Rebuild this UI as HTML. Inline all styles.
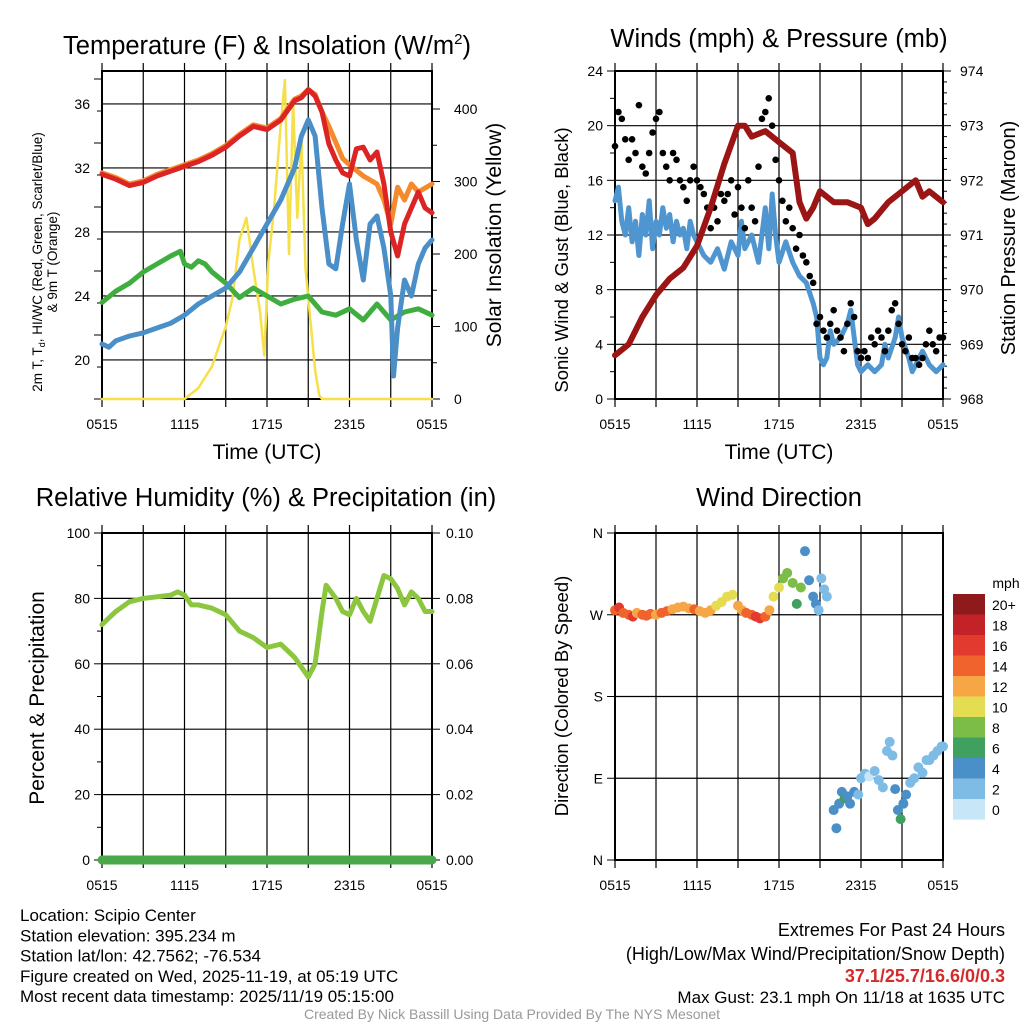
<!DOCTYPE html>
<html><head><meta charset="utf-8">
<style>
html,body{margin:0;padding:0;background:#fff;}
svg{display:block;font-family:"Liberation Sans",Arial,sans-serif;}
</style></head>
<body>
<svg id="c" width="1024" height="1024" viewBox="0 0 1024 1024" xmlns="http://www.w3.org/2000/svg">
<rect width="1024" height="1024" fill="#fff"/>
</svg>
<script>
// ---------- DATA ----------
const xTickLabels = ["0515","1115","1715","2315","0515"];
// Panel 1
const redT = [0,1,2,3,4,5,6,7,8,9,10,11,12,13,14,14.5,15,15.5,16,16.5,17,17.5,18,18.5,19,19.5,20,20.5,21,21.5,22,22.5,23,23.5,24];
const redV = [31.6,31.3,30.9,31.1,31.5,31.8,32.1,32.4,32.8,33.3,34.0,34.6,34.4,35.0,36.2,36.4,36.9,36.5,35.5,33.5,32.5,31.7,31.5,33.2,33.3,32.5,33.0,31.0,28.0,26.5,28.5,29.5,30.5,29.5,29.2];
const orangeT = [0,1,2,3,4,5,6,7,8,9,10,11,12,13,14,14.5,15,15.5,16,16.5,17,17.5,18,19,20,20.5,21,21.5,22,22.5,23,24];
const orangeV = [31.7,31.4,31.0,31.2,31.6,31.9,32.2,32.5,32.9,33.4,34.1,34.7,34.5,35.1,36.3,36.5,36.9,36.6,35.5,34.6,33.6,32.6,32.2,31.5,31.0,30.0,28.5,30.8,30.0,31.0,30.5,31.0];
const blueT = [0,0.5,1,2,3,4,5,6,7,8,9,10,11,12,13,14,14.5,15,15.5,16,16.5,17,17.5,18,18.5,19,19.5,20,20.5,21,21.2,21.5,22,22.5,23,23.5,24];
const blueV = [21.0,20.8,21.2,21.5,21.7,22.0,22.3,22.8,23.5,24.0,24.5,25.5,27.0,28.5,30.0,32.0,34.0,35.0,34.0,29.5,26.0,25.7,28.5,31.0,27.5,25.0,28.5,29.0,27.0,24.0,19.0,22.0,25.0,24.0,26.0,27.0,27.5];
const greenT = [0,1,2,3,4,5,5.7,6,6.5,7,7.5,8,9,10,11,12,13,14,15,16,17,18,19,20,21,22,23,24];
const greenV = [23.6,24.3,24.8,25.5,26.0,26.5,26.8,26.0,25.8,26.2,26.0,25.5,24.8,23.9,24.5,24.0,23.5,23.8,24.0,23.0,22.8,23.2,22.5,23.5,22.5,23.0,23.2,22.8];
const solarT = [0,6.0,7.0,8.0,9.0,9.5,10.0,10.5,11.0,11.5,11.8,12.1,12.5,13.0,13.3,13.6,13.9,14.2,14.5,14.8,15.1,15.5,15.8,16,24];
const solarV = [0,0,15,45,100,140,220,250,180,120,60,190,260,380,440,200,410,250,360,180,120,40,5,0,0];
// Panel 2
const windT = [0,0.25,0.5,0.75,1,1.25,1.5,1.75,2,2.25,2.5,2.75,3,3.25,3.5,3.75,4,4.25,4.5,4.75,5,5.25,5.5,5.75,6,6.5,7,7.5,8,8.5,9,9.25,9.5,10,10.5,11,11.25,11.5,11.75,12,12.5,13,13.5,14,14.5,14.75,15,15.25,15.5,15.75,16,16.5,17,17.25,17.5,17.75,18,18.5,19,19.5,19.75,20,20.5,20.75,21,21.5,21.75,22,22.5,23,23.5,24];
const windV = [14.5,15.5,13,12,14,11.5,13,10.5,13.5,12,14.5,11,13,12,14,12.5,13.5,11.5,13,12,12.5,11,13,12,11.5,10.5,10,11,9.5,11.5,10.5,13,11,12,10,14,11,15,12,10,11.5,10,9,8.5,7,6,3,2.5,3,5,4,4.5,5.5,6.5,4.5,2.5,2,2.5,2,2.5,4,3,4.5,6,4.5,3,2,2.5,3.5,2.5,2,2.5];
const gustV = [18.5,21,20.5,19, 17.5,19,18,21.5, 17,16.5,18,19.5, 20.5,21,18,17, 16,18,17.5,16, 15.5,14.5,16,17, 16,15.5,15,14, 12.5,14,13,15, 14.5,15,16,13.5, 15.5,14,12.5,16, 14,13,17,20.5, 21,22,20,17.5, 16,14.5,13,14, 12.5,11,12,10.5, 10,9,8.5,5.5, 6,5,4.5,5.5, 6.5,5,4.5,3.5, 5.5,7,6,3.5, 3,3.5,3,4.5, 4,5,4.5,3.5, 5,6.5,7,5.5, 4,3.5,4.5,3, 3,2.5,3,4, 5,4,3.5,4.5, 4.5];
const gustStepHours = 0.25;
const presT = [0,1,2,3,4,5,6,7,8,9,9.5,10,11,12,13,13.5,14,14.5,15,16,17,18,18.5,19,20,21,22,22.5,23,24];
const presV = [968.8,969.0,969.5,969.9,970.2,970.4,970.8,971.5,972.3,973.0,973.0,972.8,972.9,972.7,972.5,971.6,971.3,971.5,971.8,971.6,971.6,971.5,971.2,971.3,971.6,971.8,972.0,971.7,971.8,971.6];
// Panel 3
const rhT = [0,0.5,1,2,3,4,5,5.5,6,6.5,7,8,9,10,11,12,13,14,14.5,15,15.5,16,16.3,17,17.5,18,18.5,19,19.5,20,20.5,21,21.5,22,22.5,23,23.5,24];
const rhV = [72,74,76,79,80,80.5,81,82,81,78,78,77,75,70,68,65,66,62,59,56,60,76,84,80,76,75,80,76,73,80,87,86,83,78,82,80,76,76];
const precipV = [0,0];
// Panel 4
const dirT = [0,0.3,0.6,1,1.3,1.6,2,2.3,2.6,3,3.4,3.8,4.2,4.6,5,5.4,5.8,6.2,6.6,7,7.4,7.8,8.2,8.6,9,9.3,9.6,10,10.3,10.6,11,11.3,11.6,12,12.3,12.6,13,13.3,13.6,13.9,14.2,14.5,14.7,14.9,15.1,15.3,15.5,16,16.2,16.4,16.6,16.8,17,17.2,17.5,17.8,18,18.3,18.6,19,19.3,19.6,19.9,20.1,20.3,20.5,20.7,20.9,21.1,21.3,21.6,21.9,22.2,22.5,22.8,23,23.3,23.6,23.9,24];
const dirV = [275,278,272,270,268,272,270,269,271,270,272,274,276,278,279,277,276,274,272,275,280,284,290,292,280,275,272,270,268,266,268,275,290,300,310,316,305,282,300,340,308,290,282,275,310,298,290,55,35,62,75,68,70,62,75,72,90,95,92,98,88,80,120,130,115,78,55,45,62,72,85,90,102,96,110,110,115,120,125,125];
const dirS = [15,17,14,14,16,13,14,14,15,13,14,14,13,13,12,13,14,13,12,12,10,11,10,10,12,13,14,15,16,17,15,12,11,10,9,9,8,7,8,5,5,5,4,3,3,3,3,5,4,5,5,7,4,4,4,3,3,2,1,2,3,3,2,2,2,4,5,7,5,4,3,2,2,2,3,2,2,3,2,2];
const barLabels = ["20+","18","16","14","12","10","8","6","4","2","0"];
const barColors = ["#8e1a1c","#c32228","#e23a2e","#f0632c","#f7a646","#e4dd52","#7cbd47","#40a05f","#4a8fc7","#7ebce6","#c7e6f8"];

// ---------- helpers ----------
const NS="http://www.w3.org/2000/svg";
const svg=document.getElementById('c');
function el(tag,attrs,parent){const e=document.createElementNS(NS,tag);for(const k in attrs)e.setAttribute(k,attrs[k]);(parent||svg).appendChild(e);return e;}
function txt(s,x,y,size,anchor,parent,extra){const t=el('text',Object.assign({x:x,y:y,'font-size':size,'text-anchor':anchor||'middle',fill:'#000'},extra||{}),parent);t.textContent=s;return t;}
function mkScaleX(p){return h=>p.l+h*(p.r-p.l)/24;}
function mkScaleY(p,lo,hi){return v=>p.b-(v-lo)*(p.b-p.t)/(hi-lo);}
function polyPts(ts,vs,sx,sy){return ts.map((t,i)=>sx(t).toFixed(1)+','+sy(vs[i]).toFixed(1)).join(' ');}

function frame(p,name){
  const g=el('g',{});
  
  
  for(let i=0;i<=8;i++){const x=p.l+i*(p.r-p.l)/8;
    el('line',{x1:x,y1:p.t-8,x2:x,y2:p.b+8,stroke:'#000','stroke-width':1.2},g);}
  xTickLabels.forEach((s,i)=>{const x=p.l+i*(p.r-p.l)/4;
    const t=txt(s,x,p.b+30,14,'middle',g);
    
    });
  return g;
}
function yTicks(p,g,lo,hi,major,minor,labels,side){
  const sy=mkScaleY(p,lo,hi);
  for(let v=lo;v<=hi+1e-9;v+=minor){const y=sy(v);
    const isMaj=Math.abs(((v-lo)/major)-Math.round((v-lo)/major))<1e-6;
    if(side==='left'){el('line',{x1:p.l-(isMaj?8:5),y1:y,x2:p.l,y2:y,stroke:'#000','stroke-width':1},g);}
    else {el('line',{x1:p.r,y1:y,x2:p.r+(isMaj?8:5),y2:y,stroke:'#000','stroke-width':1},g);}
  }
  labels.forEach(([v,s])=>{const y=sy(v);
    if(side==='left'){el('line',{x1:p.l,y1:y,x2:p.r,y2:y,stroke:'#000','stroke-width':1.2},g);
      const t=txt(s,p.l-12,y+5,14,'end',g);}
    else {const t=txt(s,p.r+12,y+5,14,'start',g);}
  });
}
function border(p,g){el('rect',{x:p.l,y:p.t,width:p.r-p.l,height:p.b-p.t,fill:'none',stroke:'#000','stroke-width':2},g);}
function line(ts,vs,sx,sy,color,w,name){const pl=el('polyline',{points:polyPts(ts,vs,sx,sy),fill:'none',stroke:color,'stroke-width':w,'stroke-linejoin':'round','stroke-linecap':'round'});
  
  return pl;}

// ---------- Panel 1 ----------
const p1={l:102,r:432,t:71,b:399};
const g1=frame(p1,'temperature');
yTicks(p1,g1,17.56,38.06,4,2,[[20,'20'],[24,'24'],[28,'28'],[32,'32'],[36,'36']],'left');
const sx1=mkScaleX(p1), sy1=mkScaleY(p1,17.56,38.06);
const sys1=v=>p1.b-v*0.725;
(function(){for(let v=0;v<=400;v+=50){const y=sys1(v);el('line',{x1:p1.r,y1:y,x2:p1.r+(v%100===0?8:5),y2:y,stroke:'#000'},g1);}
 [0,100,200,300,400].forEach(v=>{const t=txt(String(v),p1.r+22,sys1(v)+5,14,'start',g1);});})();
line(solarT,solarV,sx1,sys1,'#f6e04a',2.5,'solar-insolation-line');
line(greenT,greenV,sx1,sy1,'#3fae3f',5,'heat-index-line');
line(blueT,blueV,sx1,sy1,'#4a8fc8',5,'dewpoint-line');
line(orangeT,orangeV,sx1,sy1,'#f58a2c',5,'temp-9m-line');
line(redT,redV,sx1,sy1,'#dc2424',5,'temp-2m-line');
border(p1,g1);

// ---------- Panel 2 ----------
const p2={l:615,r:943,t:71,b:399};
const g2=frame(p2,'winds');
yTicks(p2,g2,0,24,4,2,[[0,'0'],[4,'4'],[8,'8'],[12,'12'],[16,'16'],[20,'20'],[24,'24']],'left');
const sx2=mkScaleX(p2), sy2=mkScaleY(p2,0,24), syp=mkScaleY(p2,968,974);
(function(){for(let v=968;v<=974.001;v+=0.2){const y=syp(v);const maj=Math.abs(v-Math.round(v))<1e-6;el('line',{x1:p2.r,y1:y,x2:p2.r+(maj?8:4),y2:y,stroke:'#000'},g2);}
 [968,969,970,971,972,973,974].forEach(v=>{const t=txt(String(v),p2.r+17,syp(v)+5,14,'start',g2);});})();
line(windT,windV,sx2,sy2,'#4f96d0',5,'sonic-wind-line');
gustV.forEach((v,i)=>{const c=el('circle',{cx:sx2(i*gustStepHours),cy:sy2(v),r:3.3,fill:'#000'});
  
  });
line(presT,presV,sx2,syp,'#9c1515',6,'pressure-line');
border(p2,g2);

// ---------- Panel 3 ----------
const p3={l:102,r:432,t:533,b:860};
const g3=frame(p3,'humidity');
yTicks(p3,g3,0,100,20,10,[[0,'0'],[20,'20'],[40,'40'],[60,'60'],[80,'80'],[100,'100']],'left');
const sx3=mkScaleX(p3), sy3=mkScaleY(p3,0,100);
[[0,'0.00'],[20,'0.02'],[40,'0.04'],[60,'0.06'],[80,'0.08'],[100,'0.10']].forEach(([v,s])=>{const y=sy3(v);
  el('line',{x1:p3.r,y1:y,x2:p3.r+8,y2:y,stroke:'#000'},g3);
  const t=txt(s,p3.r+14,y+5,14,'start',g3);});
line(rhT,rhV,sx3,sy3,'#8cc63f',5,'relative-humidity-line');
line([0,24],precipV,sx3,sy3,'#4aa84a',9,'precipitation-line');
border(p3,g3);

// ---------- Panel 4 ----------
const p4={l:615,r:943,t:533,b:860};
const g4=frame(p4,'wind-direction');
yTicks(p4,g4,0,360,90,90,[[0,'N'],[90,'E'],[180,'S'],[270,'W'],[360,'N']],'left');
const sx4=mkScaleX(p4), sy4=mkScaleY(p4,0,360);
function colorFor(s){let idx=Math.min(10,Math.floor(s/2));return barColors[10-idx];}
dirV.forEach((d,i)=>{const c=el('circle',{cx:sx4(dirT[i]),cy:sy4(d),r:5,fill:colorFor(dirS[i])});
  
  });
border(p4,g4);

// colorbar
const cb=el('g',{});


txt('mph',1006,588,14,'middle',cb);
barColors.forEach((c,i)=>{el('rect',{x:953,y:594+i*20.5,width:32,height:20.6,fill:c},cb);
  const t=txt(barLabels[i],992,610+i*20.5,14,'start',cb);
  
  });
</script>
<script>
// titles and static text
(function(){
const NS="http://www.w3.org/2000/svg";const svg=document.getElementById('c');
function T(s,x,y,size,anchor,name,extra){const t=document.createElementNS(NS,'text');t.setAttribute('x',x);t.setAttribute('y',y);t.setAttribute('font-size',size);t.setAttribute('text-anchor',anchor);t.setAttribute('fill','#000');
 if(extra)for(const k in extra)t.setAttribute(k,extra[k]);
 
 
 t.innerHTML=s;svg.appendChild(t);return t;}
T('Temperature (F) &amp; Insolation (W/m<tspan dy="-10" font-size="15">2</tspan><tspan dy="10">)</tspan>',267,54,25.5,'middle','panel1-title');
T('Winds (mph) &amp; Pressure (mb)',779,47,25.5,'middle','panel2-title');
T('Relative Humidity (%) &amp; Precipitation (in)',266,506,25.5,'middle','panel3-title');
T('Wind Direction',779,506,25.5,'middle','panel4-title');
T('Time (UTC)',267,459,21,'middle','x-axis-title');
T('Time (UTC)',779,459,21,'middle','x-axis-title');
T('2m T, T<tspan font-size="9" dy="3">d</tspan><tspan dy="-3">, HI/WC (Red, Green, Scarlet/Blue)</tspan>',0,0,13.5,'middle','y-axis-title',{transform:'translate(42,262) rotate(-90)'});
T('&amp; 9m T (Orange)',0,0,13.5,'middle','y-axis-title',{transform:'translate(57,262) rotate(-90)'});
T('Solar Insolation (Yellow)',0,0,21,'middle','y2-axis-title',{transform:'translate(501,235) rotate(-90)'});
T('Sonic Wind &amp; Gust (Blue, Black)',0,0,18.5,'middle','y-axis-title',{transform:'translate(568,260) rotate(-90)'});
T('Station Pressure (Maroon)',0,0,20,'middle','y2-axis-title',{transform:'translate(1015,238) rotate(-90)'});
T('Percent &amp; Precipitation',0,0,21,'middle','y-axis-title',{transform:'translate(44,698) rotate(-90)'});
T('Direction (Colored By Speed)',0,0,18.5,'middle','y-axis-title',{transform:'translate(568,696) rotate(-90)'});
const L=['Location: Scipio Center','Station elevation: 395.234 m','Station lat/lon: 42.7562; -76.534','Figure created on Wed, 2025-11-19, at 05:19 UTC','Most recent data timestamp: 2025/11/19 05:15:00'];
L.forEach((s,i)=>T(s,20,921+i*20.3,17,'start','station-info-line'));
T('Extremes For Past 24 Hours',1005,936,18,'end','extremes-title');
T('(High/Low/Max Wind/Precipitation/Snow Depth)',1005,960,18,'end','extremes-subtitle');
T('37.1/25.7/16.6/0/0.3',1005,982,18,'end','extremes-values',{fill:'#d42a2a','font-weight':'bold'});
T('Max Gust: 23.1 mph On 11/18 at 1635 UTC',1005,1003,17,'end','max-gust-text');
T('Created By Nick Bassill Using Data Provided By The NYS Mesonet',512,1019,14,'middle','credit-footer',{fill:'#999'});
})();
</script>
</body></html>
